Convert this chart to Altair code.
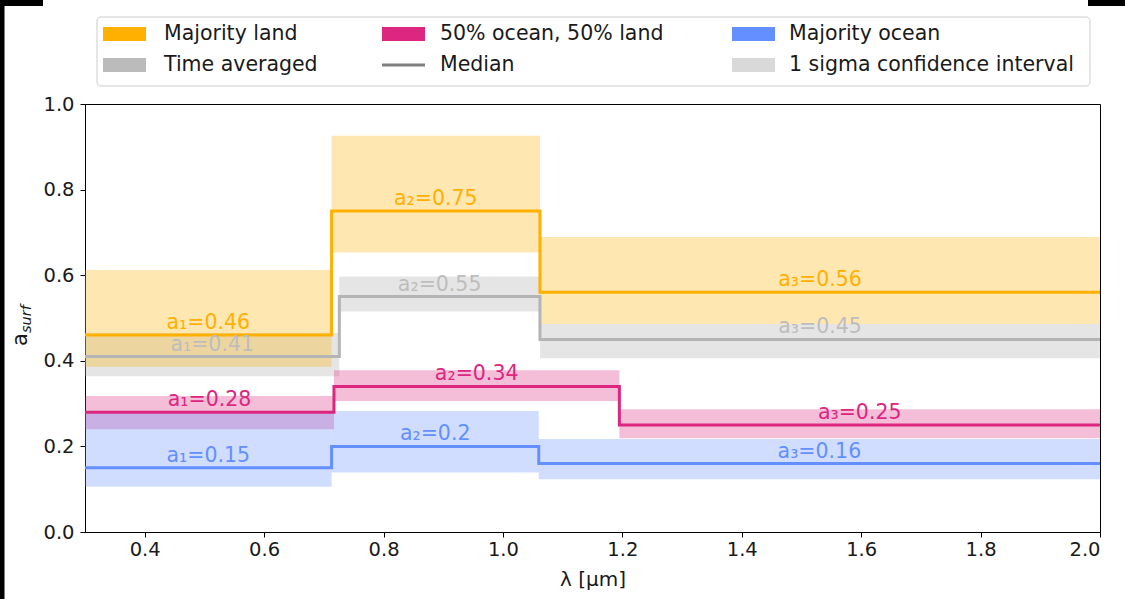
import altair as alt
import pandas as pd

FONT = "DejaVu Sans"

# Surface cases and their colours
cases = ["Time averaged", "Majority land", "50% ocean, 50% land", "Majority ocean"]
line_colors = ["#B4B4B4", "#FFB000", "#DC267F", "#648FFF"]
band_colors = ["#AAAAAA", "#FFB000", "#DC267F", "#648FFF"]
text_colors = ["#BDBDBD", "#FFB000", "#DC267F", "#648FFF"]

# Wavelength bin edges [um] for each case
edges_avg = [0.3, 0.726, 1.062, 2.0]
edges_land = [0.3, 0.713, 1.062, 2.0]
edges_half = [0.3, 0.717, 1.195, 2.0]
edges_ocean = [0.3, 0.713, 1.060, 2.0]

# Median surface albedo per bin
median_avg = [0.41, 0.55, 0.45]
median_land = [0.46, 0.75, 0.56]
median_half = [0.28, 0.34, 0.25]
median_ocean = [0.15, 0.2, 0.16]

# 1 sigma confidence interval per bin
lo_avg = [0.364, 0.515, 0.406]
hi_avg = [0.465, 0.597, 0.486]
lo_land = [0.386, 0.653, 0.486]
hi_land = [0.612, 0.926, 0.689]
lo_half = [0.240, 0.306, 0.219]
hi_half = [0.318, 0.378, 0.287]
lo_ocean = [0.106, 0.139, 0.123]
hi_ocean = [0.278, 0.283, 0.217]

edges = [edges_avg, edges_land, edges_half, edges_ocean]
medians = [median_avg, median_land, median_half, median_ocean]
lows = [lo_avg, lo_land, lo_half, lo_ocean]
highs = [hi_avg, hi_land, hi_half, hi_ocean]

subscripts = ["\u2081", "\u2082", "\u2083"]

band_rows, step_rows, label_rows = [], [], []
for c, case in enumerate(cases):
    e, m, lo, hi = edges[c], medians[c], lows[c], highs[c]
    for i in range(3):
        band_rows.append({"case": case, "x0": e[i], "x1": e[i + 1],
                          "lo": lo[i], "hi": hi[i], "fill": band_colors[c]})
        step_rows.append({"case": case, "x": e[i], "y": m[i], "i": i,
                          "stroke": line_colors[c]})
        label_rows.append({"case": case, "xc": (e[i] + e[i + 1]) / 2, "y": m[i],
                           "text": f"a{subscripts[i]}={m[i]}", "tc": text_colors[c]})
    step_rows.append({"case": case, "x": e[3], "y": m[2], "i": 3,
                      "stroke": line_colors[c]})

bands_df = pd.DataFrame(band_rows)
steps_df = pd.DataFrame(step_rows)
labels_df = pd.DataFrame(label_rows)

x_scale = alt.Scale(domain=[0.3, 2.0], nice=False, zero=False)
y_scale = alt.Scale(domain=[0.0, 1.0], nice=False)
x_axis = alt.Axis(values=[0.4, 0.6, 0.8, 1.0, 1.2, 1.4, 1.6, 1.8, 2.0], format=".1f",
                  title="\u03bb [\u03bcm]", titleFontSize=20, titleFontWeight="normal",
                  titleBaseline="alphabetic", titleY=53, labelPadding=3)
y_axis = alt.Axis(values=[0.0, 0.2, 0.4, 0.6, 0.8, 1.0], format=".1f", title="",
                  labelPadding=6)

bands = alt.Chart(bands_df).mark_rect(opacity=0.3).encode(
    x=alt.X("x0:Q", scale=x_scale, axis=x_axis),
    x2="x1:Q",
    y=alt.Y("lo:Q", scale=y_scale, axis=y_axis),
    y2="hi:Q",
    color=alt.Color("fill:N", scale=None),
)

lines = alt.Chart(steps_df).mark_line(interpolate="step-after", strokeWidth=3).encode(
    x="x:Q",
    y="y:Q",
    detail="case:N",
    order="i:O",
    color=alt.Color("stroke:N", scale=None),
)

labels = alt.Chart(labels_df).mark_text(
    font=FONT, fontSize=20.5, baseline="alphabetic", dy=-6
).encode(
    x="xc:Q",
    y="y:Q",
    text="text:N",
    color=alt.Color("tc:N", scale=None),
)

one = alt.Data(values=[{"k": 0}])


def box(x, x2, y, y2, **kw):
    return alt.Chart(one).mark_rect(**kw).encode(
        x=alt.value(x), x2=alt.value(x2), y=alt.value(y), y2=alt.value(y2))


def label(txt, x, y, **kw):
    return alt.Chart(one).mark_text(font=FONT, **kw).encode(
        x=alt.value(x), y=alt.value(y), text=alt.value(txt))


# dark edge strips around the figure
edge_layers = [
    box(-85, -42, -104, -98, color="black"),
    box(-85, -80.5, -104, 495, color="black"),
    box(1003, 1040, -104, -98, color="black"),
]

# legend
legend_names = ["Majority land", "50% ocean, 50% land", "Majority ocean",
                "Time averaged", "Median", "1 sigma confidence interval"]
legend_colors = ["#FFB000", "#DC267F", "#648FFF", "#BBBBBB", "#808080", "#D9D9D9"]
legend_kinds = ["patch", "patch", "patch", "patch", "line", "patch"]
col_x = [18, 297, 647]
text_x = [79, 355, 704]
row_y = [-70, -39]

legend_layers = [box(12, 1005, -87, -18, fill="white", stroke="#CCCCCC",
                     strokeWidth=1, cornerRadius=4)]
for k, name in enumerate(legend_names):
    r, cidx = divmod(k, 3)
    yc = row_y[r]
    if legend_kinds[k] == "patch":
        legend_layers.append(box(col_x[cidx], col_x[cidx] + 43, yc - 7, yc + 7,
                                 color=legend_colors[k]))
    else:
        legend_layers.append(
            alt.Chart(one).mark_rule(color=legend_colors[k], strokeWidth=3).encode(
                x=alt.value(col_x[cidx]), x2=alt.value(col_x[cidx] + 43),
                y=alt.value(yc)))
    legend_layers.append(label(name, text_x[cidx], yc, fontSize=20.5, align="left",
                               baseline="middle", color="#1a1a1a"))

# y axis title: a with italic subscript "surf"
ytitle = [
    label("a", -58, 242, fontSize=21, angle=270, align="left",
          baseline="alphabetic", color="#1a1a1a"),
    label("surf", -54, 229, fontSize=14.5, fontStyle="italic", angle=270,
          align="left", baseline="alphabetic", color="#1a1a1a"),
]

chart = alt.layer(bands, lines, labels, *edge_layers, *legend_layers, *ytitle).properties(
    width=1015,
    height=428,
    padding={"left": 85, "top": 104, "right": 25, "bottom": 67},
    autosize=alt.AutoSizeParams(type="none"),
).configure_view(
    stroke="black", strokeWidth=1
).configure_axis(
    grid=False,
    domainColor="black",
    tickColor="black",
    tickSize=5,
    labelColor="#1a1a1a",
    titleColor="#1a1a1a",
    labelFont=FONT,
    titleFont=FONT,
    labelFontSize=19.5,
)

chart.save("out.html", embed_options={"renderer": "svg", "actions": False})
